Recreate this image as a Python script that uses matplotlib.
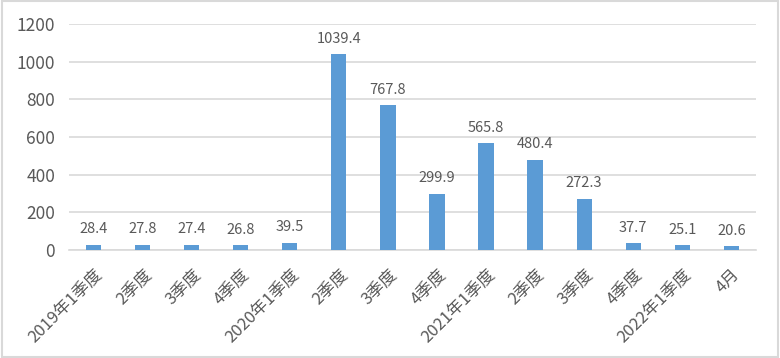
import matplotlib
matplotlib.use("Agg")
import matplotlib.pyplot as plt
from matplotlib.patches import Rectangle

plt.rcParams['font.family'] = ['Noto Sans CJK SC', 'DejaVu Sans']

categories = ["2019年1季度", "2季度", "3季度", "4季度", "2020年1季度", "2季度", "3季度",
              "4季度", "2021年1季度", "2季度", "3季度", "4季度", "2022年1季度", "4月"]
values = [28.4, 27.8, 27.4, 26.8, 39.5, 1039.4, 767.8, 299.9, 565.8, 480.4, 272.3, 37.7, 25.1, 20.6]
yticks = [0, 200, 400, 600, 800, 1000, 1200]

fig = plt.figure(figsize=(7.8, 3.58), dpi=100)
ax = fig.add_axes([0.0885, 0.3017, 0.8805, 0.6313])

x = list(range(len(categories)))
bars = ax.bar(x, values, width=0.31, color="#5b9bd5", zorder=3)

for xi, v in zip(x, values):
    ax.annotate(f"{v}", (xi, v), xytext=(0, 6), textcoords="offset points",
                ha="center", va="bottom", fontsize=10.5, color="#595959",
                fontweight="light")

ax.set_ylim(0, 1200)
ax.set_xlim(-0.5, len(categories) - 0.5)
ax.set_yticks(yticks)
ax.set_yticklabels([str(t) for t in yticks], fontsize=12.5, color="#595959",
                   fontweight="light")
ax.set_xticks(x)
ax.set_xticklabels(categories, rotation=45, ha="right", rotation_mode="anchor",
                   fontsize=12, color="#595959", fontweight="light")
ax.tick_params(axis="both", length=0)
ax.tick_params(axis="x", pad=11)
ax.tick_params(axis="y", pad=10)
ax.grid(axis="y", color="#d9d9d9", linewidth=1.2, zorder=0)
for s in ["top", "right", "left"]:
    ax.spines[s].set_visible(False)
ax.spines["bottom"].set_color("#d9d9d9")
ax.spines["bottom"].set_linewidth(1.2)

fig.patches.append(Rectangle((0.002, 0.003), 0.996, 0.994, transform=fig.transFigure,
                             fill=False, edgecolor="#d9d9d9", linewidth=1.5))

fig.savefig("out.png", dpi=100)
